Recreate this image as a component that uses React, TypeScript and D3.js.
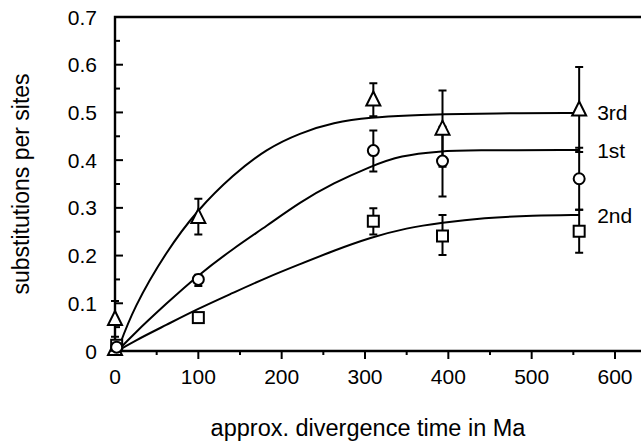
import * as d3 from "d3";
import { useEffect, useRef } from "react";

// sampling times (Ma) of the dated divergences
const times = [100, 310, 393, 557];

// 3rd codon position (triangles)
const thirdMean = [0.281, 0.527, 0.466, 0.506];
const thirdLow = [0.244, 0.492, 0.386, 0.417];
const thirdHigh = [0.319, 0.561, 0.546, 0.595];

// 1st codon position (circles)
const firstMean = [0.15, 0.42, 0.398, 0.361];
const firstLow = [0.136, 0.376, 0.324, 0.296];
const firstHigh = [0.16, 0.462, 0.47, 0.426];

// 2nd codon position (squares)
const secondMean = [0.07, 0.272, 0.241, 0.251];
const secondLow = [0.07, 0.244, 0.201, 0.206];
const secondHigh = [0.07, 0.299, 0.285, 0.296];

// points close to the origin
const originShape = ["triangle", "triangle", "square", "circle"];
const originTime = [0, 0, 2, 2];
const originMean = [0.067, 0.004, 0.012, 0.008];
const originLow = [0.03, 0.004, 0.012, 0.008];
const originHigh = [0.105, 0.004, 0.012, 0.008];

// fitted curves
const thirdCurveT = [3, 22, 62, 99, 142, 182, 222, 262, 307, 355, 392, 450, 557];
const thirdCurveV = [0, 0.09, 0.21, 0.296, 0.37, 0.424, 0.457, 0.479, 0.49, 0.494, 0.496, 0.498, 0.499];
const firstCurveT = [3, 22, 62, 99, 142, 182, 222, 262, 307, 342, 392, 422, 557];
const firstCurveV = [0, 0.035, 0.1, 0.158, 0.215, 0.262, 0.312, 0.352, 0.387, 0.41, 0.419, 0.421, 0.421];
const secondCurveT = [3, 22, 62, 99, 142, 182, 222, 262, 307, 350, 392, 442, 502, 557];
const secondCurveV = [0, 0.02, 0.055, 0.088, 0.122, 0.154, 0.182, 0.21, 0.238, 0.258, 0.269, 0.279, 0.284, 0.285];

const curveLabels = ["3rd", "1st", "2nd"];

const xTicks = [0, 100, 200, 300, 400, 500, 600];
const yTicks = [0, 0.1, 0.2, 0.3, 0.4, 0.5, 0.6, 0.7];

const width = 641;
const height = 444;
const font = "'Liberation Sans', Arial, Helvetica, sans-serif";

function App() {
  const ref = useRef<SVGSVGElement>(null);

  useEffect(() => {
    document.body.style.margin = "0";
    const svg = d3.select(ref.current);
    svg.selectAll("*").remove();

    const x = d3.scaleLinear().domain([0, 600]).range([115, 615]);
    const y = d3.scaleLinear().domain([0, 0.7]).range([351, 17]);
    const x0 = x(0);
    const y0 = y(0);

    const g = svg.append("g");

    // frame: left axis, bottom axis, top line
    g.append("path")
      .attr("d", `M${width},${y(0.7)}H${x0}V${y0}H${width}`)
      .attr("fill", "none")
      .attr("stroke", "#000")
      .attr("stroke-width", 2.4);

    // x ticks (pointing down), minor every 50
    d3.range(50, 650, 50).forEach((t) => {
      const major = t % 100 === 0;
      g.append("line")
        .attr("x1", x(t)).attr("x2", x(t))
        .attr("y1", y0).attr("y2", y0 + (major ? 8 : 4))
        .attr("stroke", "#000").attr("stroke-width", 2);
    });
    // y ticks (pointing right), minor every 0.05
    d3.range(0.05, 0.7, 0.05).forEach((v) => {
      const major = Math.abs(Math.round(v * 10) - v * 10) < 1e-6;
      g.append("line")
        .attr("x1", x0).attr("x2", x0 + (major ? 8 : 5))
        .attr("y1", y(v)).attr("y2", y(v))
        .attr("stroke", "#000").attr("stroke-width", 2);
    });

    g.selectAll(".xt")
      .data(xTicks)
      .join("text")
      .attr("x", (d) => x(d))
      .attr("y", 384)
      .attr("text-anchor", "middle")
      .attr("font-family", font)
      .attr("font-size", 21)
      .text((d) => d);

    g.selectAll(".yt")
      .data(yTicks)
      .join("text")
      .attr("x", 97)
      .attr("y", (d) => y(d))
      .attr("dy", "0.36em")
      .attr("text-anchor", "end")
      .attr("font-family", font)
      .attr("font-size", 21)
      .text((d) => (d === 0 ? "0" : d.toFixed(1)));

    g.append("text")
      .attr("x", 368)
      .attr("y", 436)
      .attr("text-anchor", "middle")
      .attr("font-family", font)
      .attr("font-size", 23.5)
      .text("approx. divergence time in Ma");

    g.append("text")
      .attr("transform", `translate(29,184) rotate(-90)`)
      .attr("text-anchor", "middle")
      .attr("font-family", font)
      .attr("font-size", 23)
      .text("substitutions per sites");

    // fitted curves
    const line = d3
      .line<[number, number]>()
      .x((d) => x(d[0]))
      .y((d) => y(d[1]))
      .curve(d3.curveBasis);
    const curves = [
      d3.zip(thirdCurveT, thirdCurveV),
      d3.zip(firstCurveT, firstCurveV),
      d3.zip(secondCurveT, secondCurveV),
    ] as [number, number][][];
    curves.forEach((c) => {
      g.append("path")
        .attr("d", line(c))
        .attr("fill", "none")
        .attr("stroke", "#000")
        .attr("stroke-width", 2);
    });

    // curve labels
    curves.forEach((c, i) => {
      const last = c[c.length - 1];
      g.append("text")
        .attr("x", x(last[0]) + 18)
        .attr("y", y(last[1]))
        .attr("dy", "0.36em")
        .attr("font-family", font)
        .attr("font-size", 21)
        .text(curveLabels[i]);
    });

    // points
    type P = { shape: string; t: number; v: number; lo: number; hi: number };
    const pts: P[] = [];
    times.forEach((t, i) => {
      pts.push({ shape: "triangle", t, v: thirdMean[i], lo: thirdLow[i], hi: thirdHigh[i] });
      pts.push({ shape: "circle", t, v: firstMean[i], lo: firstLow[i], hi: firstHigh[i] });
      pts.push({ shape: "square", t, v: secondMean[i], lo: secondLow[i], hi: secondHigh[i] });
    });
    originTime.forEach((t, i) => {
      pts.push({ shape: originShape[i], t, v: originMean[i], lo: originLow[i], hi: originHigh[i] });
    });

    // error bars first
    pts.forEach((p) => {
      if (p.hi - p.lo < 1e-6) return;
      const px = x(p.t);
      g.append("path")
        .attr(
          "d",
          `M${px},${y(p.lo)}V${y(p.hi)}M${px - 4},${y(p.hi)}H${px + 4}M${px - 4},${y(p.lo)}H${px + 4}`
        )
        .attr("fill", "none")
        .attr("stroke", "#000")
        .attr("stroke-width", 2);
    });

    pts.forEach((p) => {
      const px = x(p.t);
      const py = y(p.v);
      let el;
      if (p.shape === "circle") {
        el = g.append("circle").attr("cx", px).attr("cy", py).attr("r", 5.5);
      } else if (p.shape === "square") {
        el = g.append("rect").attr("x", px - 5.5).attr("y", py - 5.5).attr("width", 11).attr("height", 11);
      } else {
        el = g.append("path").attr("d", `M${px},${py - 8}L${px + 7},${py + 6}L${px - 7},${py + 6}Z`);
      }
      el.attr("fill", "#fff").attr("stroke", "#000").attr("stroke-width", 2);
    });
  }, []);

  return (
    <svg
      ref={ref}
      width={width}
      height={height}
      style={{ position: "absolute", left: 0, top: 0, background: "#fff" }}
    ></svg>
  );
}

export default App;
